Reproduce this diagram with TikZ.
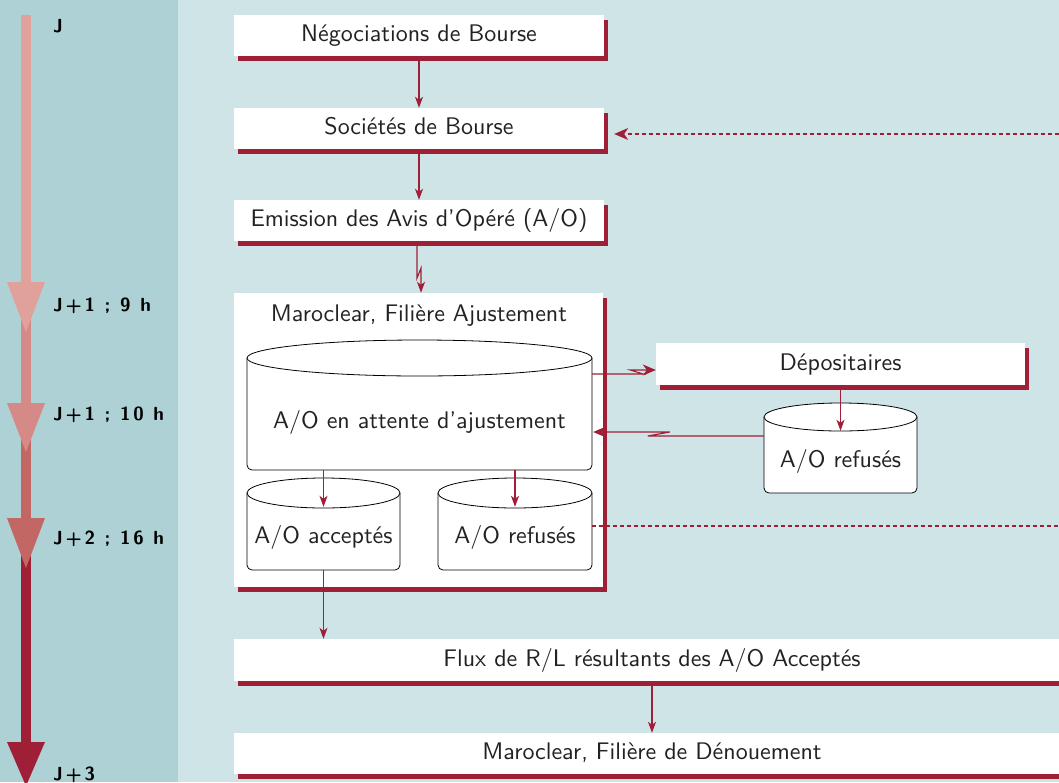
\documentclass[tikz,border=0pt]{standalone}
\usepackage{fontspec}
\usetikzlibrary{shadows,arrows.meta,calc}
\newfontfamily\boxfont{lmsans10-regular}[Extension=.otf]
\newfontfamily\tlfont{lmsans10-bold}[Extension=.otf,LetterSpace=14]
\definecolor{bgL}{HTML}{AED1D6}
\definecolor{bgR}{HTML}{CFE4E7}
\definecolor{rd}{HTML}{9E1F36}
\definecolor{tA}{HTML}{E0A19B}
\definecolor{tB}{HTML}{D68A87}
\definecolor{tC}{HTML}{C26764}
\definecolor{txt}{HTML}{222222}
\newcommand\drawcyl[5]{%
  \pgfmathsetmacro\cylxc{(#1+#3)/2}%
  \pgfmathsetmacro\cylrx{(#3-#1)/2}%
  \filldraw[cylline, fill=white, rounded corners=5pt] (#1,#2+#5) -- (#1,#4) -- (#3,#4) -- (#3,#2+#5);
  \filldraw[cylline, fill=white] (\cylxc,#2+#5) ellipse [x radius=\cylrx pt, y radius=#5 pt];
}
\begin{document}
\begin{tikzpicture}[x=1pt,y=-1pt,
  box/.style={fill=white, inner sep=0pt, text=txt,
    font=\boxfont\fontsize{24}{28}\selectfont, text height=17pt, text depth=5pt,
    drop shadow={shadow xshift=4pt,shadow yshift=-4.5pt,fill=rd,opacity=1}},
  lbl/.style={text=txt, font=\boxfont\fontsize{24}{28}\selectfont, inner sep=0pt,
    text height=17pt, text depth=5pt},
  cylarea/.style={inner sep=0pt, draw=none},
  tl/.style={text=black, font=\tlfont\fontsize{19}{22}\selectfont, anchor=base west, inner sep=0pt},
  arr/.style={draw=rd, line width=1.1pt, -{Stealth[length=11pt,width=8pt,inset=3pt]}},
  bigarr/.style={draw=rd, line width=1.1pt, -{Stealth[length=13pt,width=11pt,inset=4pt]}},
  dots/.style={draw=rd, line width=2pt, dash pattern=on 4pt off 3pt},
  cylline/.style={draw=black, line width=0.8pt}]
\useasboundingbox (0,0) rectangle (1059,782);
\clip (0,0) rectangle (1059,782);
% backgrounds
\fill[bgR] (0,0) rectangle (1059,782);
\fill[bgL] (0,0) rectangle (178,782);
% timeline
\fill[tA] (21,15) rectangle (31,283);
\fill[tB] (21,282) rectangle (31,404);
\fill[tC] (21,403) rectangle (31,519);
\fill[rd] (21,518) rectangle (31,743);
\fill[tA] (7,282) -- (45,282) -- (26,332) -- cycle;
\fill[tB] (7,403) -- (45,403) -- (26,452) -- cycle;
\fill[tC] (7,518) -- (45,518) -- (26,568) -- cycle;
\fill[rd] (7,742) -- (45,742) -- (26,786) -- cycle;
\node[tl] (tJ) at (53,32) {J};
\node[tl] (tJa) at (53,311) {J+1 ; 9 h};
\node[tl] (tJb) at (53,420) {J+1 ; 10 h};
\node[tl] (tJc) at (53,544) {J+2 ; 16 h};
\node[tl] (tJd) at (53,780) {J+3};
% boxes
\node[box, minimum width=370pt, minimum height=41pt] (b1) at (419,35.5) {Négociations de Bourse};
\node[box, minimum width=370pt, minimum height=41pt] (b2) at (419,128.5) {Sociétés de Bourse};
\node[box, minimum width=370pt, minimum height=41pt] (b3) at (419,220.5) {Emission des Avis d’Opéré (A/O)};
\node[box, minimum width=369pt, minimum height=294pt] (big) at (418.5,440) {};
\node[lbl] (bigt) at (419,315) {Maroclear, Filière Ajustement};
\node[box, minimum width=369pt, minimum height=42pt] (dep) at (840.5,364) {Dépositaires};
\node[box, minimum width=836pt, minimum height=42pt] (flux) at (652,660) {Flux de R/L résultants des A/O Acceptés};
\node[box, minimum width=836pt, minimum height=41pt] (den) at (652,753.5) {Maroclear, Filière de Dénouement};
% cylinders
\drawcyl{247}{340}{592}{470}{18}
\node[cylarea, minimum width=345pt, minimum height=130pt] (bigcyl) at (419.5,405) {};
\node[lbl] (bigcylt) at (419.5,422) {A/O en attente d’ajustement};
\drawcyl{247}{478}{400}{570}{15}
\node[cylarea, minimum width=153pt, minimum height=92pt] (acc) at (323.5,524) {};
\node[lbl] (acct) at (323.5,537) {A/O acceptés};
\drawcyl{438}{478}{592}{570}{15}
\node[cylarea, minimum width=154pt, minimum height=92pt] (ref) at (515,524) {};
\node[lbl] (reft) at (515,537) {A/O refusés};
\drawcyl{764}{403}{917}{493}{14}
\node[cylarea, minimum width=153pt, minimum height=90pt] (rc) at (840.5,448) {};
\node[lbl] (rct) at (840.5,461) {A/O refusés};
% connectors
\draw[arr] (b1.south) -- (b2.north);
\draw[arr] (b2.south) -- (b3.north);
\draw[arr] ($(b3.south)+(-2,0)$) -- ++(0,37) -- ++(4,-10) -- ($(big.north)+(2.5,0)$);
\coordinate (eR1) at (1059,134);
\draw[dots] (eR1) -- ($(b2.east)+(22,5.5)$);
\draw[draw=none, fill=rd] ($(b2.east)+(10,5.5)$) -- ++(14,-6) -- ++(-4,6) -- ++(4,6) -- cycle;
\draw[bigarr] ($(bigcyl.east)+(0,-31)$) -- ++(51,0) -- ++(-13,-4) -- ($(dep.west)+(0,6)$);
\draw[bigarr] ($(rc.west)+(0,-12)$) -- ++(-116,0) -- ++(22,-4) -- ($(bigcyl.east)+(1,27)$);
\draw[arr] (dep.south) -- ($(rc.north)+(0,28)$);
\draw[arr] (bigcyl.south -| acc.north) -- ($(acc.north)+(0,29)$);
\draw[arr] (bigcyl.south -| ref.north) -- ($(ref.north)+(0,29)$);
\coordinate (eR2) at (1059,526);
\draw[dots] ($(ref.east)+(0,2)$) -- (eR2);
\draw[arr] (acc.south) -- (acc.south |- flux.north);
\draw[arr] (flux.south) -- (den.north);
\end{tikzpicture}
\end{document}
